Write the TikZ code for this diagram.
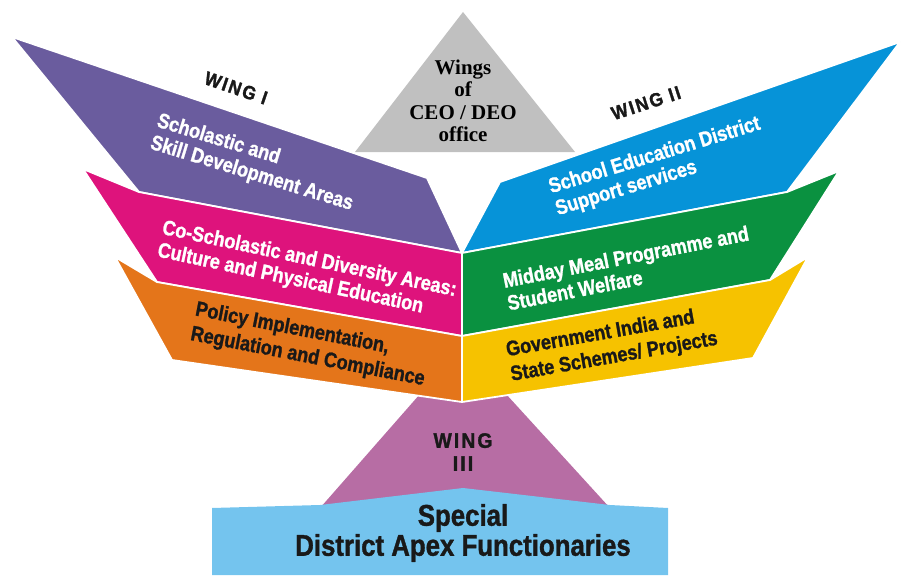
\documentclass[tikz,border=0pt]{standalone}
\usepackage{fontspec}
\newfontfamily\condsans[FakeStretch=0.86,FakeBold=1.2]{Liberation Sans}
\newfontfamily\spacedsans[FakeStretch=0.92,LetterSpace=10,FakeBold=1.5]{Liberation Sans}
\newfontfamily\serifb{Liberation Serif}
\definecolor{wingpurple}{RGB}{106,92,158}
\definecolor{wingmagenta}{RGB}{222,19,124}
\definecolor{wingorange}{RGB}{228,117,26}
\definecolor{wingblue}{RGB}{6,147,216}
\definecolor{winggreen}{RGB}{10,145,64}
\definecolor{wingyellow}{RGB}{246,194,0}
\definecolor{wingmauve}{RGB}{183,109,164}
\definecolor{apexblue}{RGB}{116,196,238}
\definecolor{officegray}{RGB}{192,192,192}
\begin{document}
\begin{tikzpicture}[x=1pt,y=-1pt,
  band/.style={draw=white,line width=1.8pt,line join=round},
  whitelbl/.style={text=white,font=\condsans\bfseries\fontsize{21}{23}\selectfont,align=left,inner sep=0pt},
  blacklbl/.style={text=black!90,font=\condsans\bfseries\fontsize{21}{25}\selectfont,align=left,inner sep=0pt},
  winglbl/.style={text=black!90,font=\spacedsans\bfseries\fontsize{19}{22}\selectfont,align=center,inner sep=0pt}]
\useasboundingbox (0,0) rectangle (901,575);

% central office triangle
\fill[officegray] (355,152) -- (463,12) -- (575,152) -- cycle;

% wing III trapezoid and apex box
\fill[wingmauve] (320,508) -- (420,394) -- (506,394) -- (610,508) -- cycle;
\fill[apexblue] (212,508) -- (320,505) -- (463,488) -- (610,505) -- (668,508)
  -- (668,575) -- (212,575) -- cycle;

% wing I bands
\filldraw[band,fill=wingpurple] (12,37) -- (427,178) -- (462,253) -- (139,192) -- cycle;
\filldraw[band,fill=wingmagenta] (83,169) -- (139,192) -- (462,253) -- (462,336) -- (157,282) -- cycle;
\filldraw[band,fill=wingorange] (115,257) -- (157,282) -- (462,336) -- (462,402) -- (172,360) -- cycle;

% wing II bands
\filldraw[band,fill=wingblue] (462,253) -- (500,182) -- (900,42) -- (787,192) -- cycle;
\filldraw[band,fill=winggreen] (462,253) -- (787,192) -- (839,171) -- (770,280) -- (462,336) -- cycle;
\filldraw[band,fill=wingyellow] (462,336) -- (770,280) -- (808,257) -- (753,358) -- (462,402) -- cycle;

% labels
\node[font=\serifb\bfseries\fontsize{21}{22.5}\selectfont,align=center,inner sep=0pt]
  (office) at (463,101) {Wings\\of\\CEO / DEO\\office};

\node[winglbl,rotate=-19] (wingone) at (236,88) {WING I};
\node[winglbl,rotate=18] (wingtwo) at (646,103) {WING II};
\node[winglbl,font=\spacedsans\bfseries\fontsize{21}{23}\selectfont] (wingthree) at (463,452) {WING\\III};

\node[whitelbl,rotate=-17] (scholastic) at (255,163) {Scholastic and\\Skill Development Areas};
\node[whitelbl,rotate=-12] (coscholastic) at (307,271) {Co-Scholastic and Diversity Areas:\\Culture and Physical Education};
\node[blacklbl,rotate=-11] (policy) at (310,345) {Policy Implementation,\\Regulation and Compliance};

\node[whitelbl,rotate=17] (support) at (658,167) {School Education District\\Support services};
\node[whitelbl,rotate=11] (midday) at (628,268) {Midday Meal Programme and\\Student Welfare};
\node[blacklbl,rotate=10] (schemes) at (612,345) {Government India and\\State Schemes/ Projects};

\node[text=black!90,font=\condsans\bfseries\fontsize{30}{30}\selectfont,align=center,inner sep=0pt]
  (apex) at (463,533) {Special\\District Apex Functionaries};
\end{tikzpicture}
\end{document}
